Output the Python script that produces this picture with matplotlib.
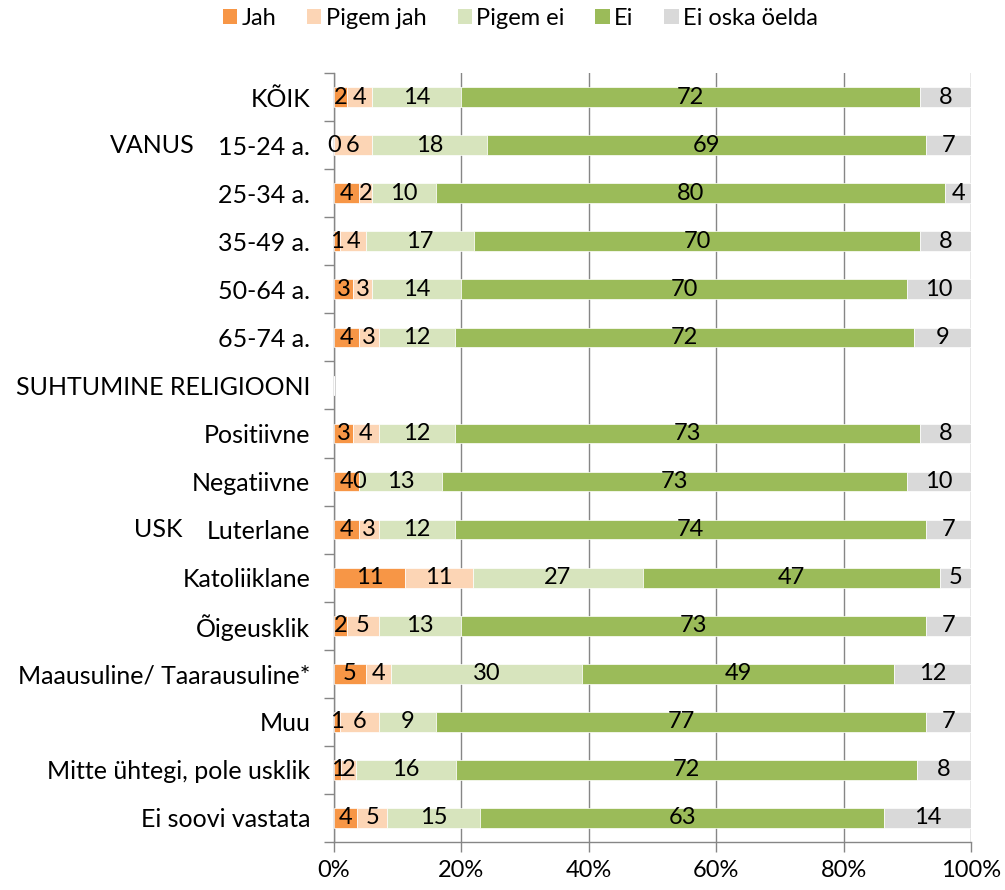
import numpy as np
import matplotlib
matplotlib.use("Agg")
import matplotlib.pyplot as plt
import matplotlib.transforms as mtransforms
from matplotlib.patches import Patch

plt.rcParams['font.family'] = ['Lato', 'DejaVu Sans']

categories = ['KÕIK', '15-24 a.', '25-34 a.', '35-49 a.', '50-64 a.', '65-74 a.',
              'SUHTUMINE RELIGIOONI', 'Positiivne', 'Negatiivne', 'Luterlane',
              'Katoliiklane', 'Õigeusklik', 'Maausuline/ Taarausuline*', 'Muu',
              'Mitte ühtegi, pole usklik', 'Ei soovi vastata']
header_rows = [6]

# percentages per answer (row 6 is a heading row with no bar)
jah          = [2, 0, 4, 1, 3, 4, 0, 3, 4, 4, 11.2, 2, 5, 1, 1.1, 3.6]
pigem_jah    = [4, 6, 2, 4, 3, 3, 0, 4, 0, 3, 10.6, 5, 4, 6, 2.3, 4.8]
pigem_ei     = [14, 18, 10, 17, 14, 12, 0, 12, 13, 12, 26.7, 13, 30, 9, 15.8, 14.6]
ei           = [72, 69, 80, 70, 70, 72, 0, 73, 73, 74, 46.6, 73, 49, 77, 72.4, 63.3]
ei_oska      = [8, 7, 4, 8, 10, 9, 0, 8, 10, 7, 4.9, 7, 12, 7, 8.4, 13.7]

series = [jah, pigem_jah, pigem_ei, ei, ei_oska]
names = ['Jah', 'Pigem jah', 'Pigem ei', 'Ei', 'Ei oska öelda']
colors = ['#F79646', '#FCD5B5', '#D7E4BD', '#9BBB59', '#D9D9D9']

fig = plt.figure(figsize=(10.05, 8.9), dpi=100)
ax = fig.add_axes([0.3323, 0.0539, 0.6338, 0.864])

y = np.arange(len(categories))
left = np.zeros(len(categories))
for vals, name, col in zip(series, names, colors):
    vals = np.array(vals, dtype=float)
    ax.barh(y, vals, left=left, height=0.41, color=col, edgecolor='white',
            linewidth=0.5, label=name, zorder=3)
    for i, v in enumerate(vals):
        if i in header_rows:
            continue
        ax.text(left[i] + v / 2, y[i], f"{v:.0f}", ha='center', va='center',
                fontsize=17, color='black', zorder=4)
    left += vals

ax.set_xlim(0, 100)
ax.set_ylim(len(categories) - 0.5, -0.5)

ax.set_xticks(np.arange(0, 101, 20))
ax.set_xticklabels([f"{t}%" for t in range(0, 101, 20)])
ax.set_yticks(y)
ax.set_yticklabels(categories)
ax.set_yticks(np.arange(-0.5, len(categories), 1), minor=True)

ax.tick_params(axis='y', which='major', length=0, pad=17, labelsize=18)
ax.tick_params(axis='y', which='minor', length=7, color='#868686', width=1)
ax.tick_params(axis='x', which='major', length=7, color='#868686', width=1,
               pad=6, labelsize=17)

ax.grid(axis='x', color='#868686', linewidth=1, zorder=0)
for s in ['top', 'right']:
    ax.spines[s].set_visible(False)
for s in ['left', 'bottom']:
    ax.spines[s].set_color('#868686')
    ax.spines[s].set_linewidth(1)

# group labels on the left
trans = mtransforms.blended_transform_factory(fig.transFigure, ax.transData)
ax.text(110 / 1005, 1, 'VANUS', transform=trans, ha='left', va='center', fontsize=18)
ax.text(134 / 1005, 9, 'USK', transform=trans, ha='left', va='center', fontsize=18)

handles = [Patch(facecolor=c, edgecolor='none') for c in colors]
fig.legend(handles, names, loc='center', bbox_to_anchor=(0.518, 0.979), ncol=5,
           frameon=False, fontsize=17, handlelength=0.6, handleheight=0.6,
           handletextpad=0.2, columnspacing=1.3)

fig.savefig('out.png', dpi=100)
